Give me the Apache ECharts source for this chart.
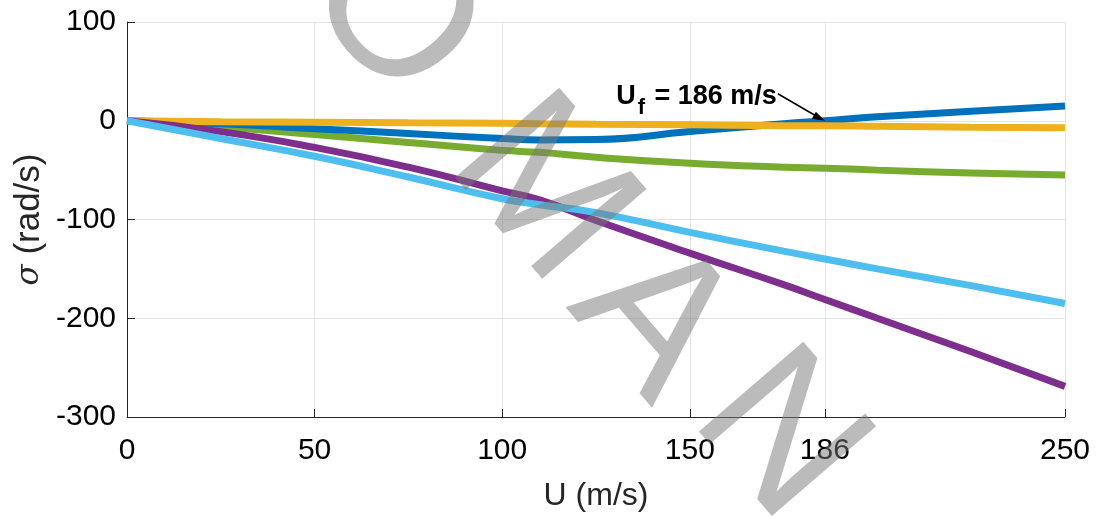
<!DOCTYPE html>
<html>
<head>
<meta charset="utf-8">
<script src="https://cdn.jsdelivr.net/npm/echarts@6/dist/echarts.min.js"></script>
<style>
  html, body { margin: 0; padding: 0; background: #fff; }
  #chart { width: 1096px; height: 518px; }
</style>
</head>
<body>
<div id="chart"></div>
<script>
// flow speed U (m/s)
const speeds = [0, 25, 50, 75, 100, 110, 125, 150, 175, 186, 200, 225, 250]
// damping sigma (rad/s) of each mode
const mode1 = [0, -3, -8, -13, -18, -19.5, -19, -11, -3, 0, 4, 9.5, 15]
const mode2 = [0, -1, -1.5, -2, -2.5, -3, -3.5, -4, -5, -5, -5.5, -6.5, -7]
const mode3 = [0, -6, -14, -22, -30, -32, -37, -43, -47, -48, -50, -53, -55]
const mode4 = [0, -18, -36, -57, -79, -85, -93, -113, -132, -140, -150, -167, -185]
const mode5 = [0, -11, -27, -47, -71, -80, -101, -134, -166, -181, -200, -234, -269]
const xTicks = [0, 50, 100, 150, 186, 250]
const flutterSpeed = 186

const pairs = ys => speeds.map((u, i) => [u, ys[i]])

const chart = echarts.init(document.getElementById('chart'))

const lineSeries = (data, color) => ({
  type: 'line',
  data: pairs(data),
  smooth: true,
  showSymbol: false,
  lineStyle: { color: color, width: 7 },
  itemStyle: { color: color },
  animation: false
})

const font = 'Liberation Sans, Arial, sans-serif'

const option = {
  animation: false,
  textStyle: { fontFamily: font },
  grid: { left: 127, right: 31, top: 22, bottom: 101, outerBoundsMode: 'none' },
  xAxis: {
    type: 'value',
    min: 0,
    max: 250,
    name: 'U (m/s)',
    nameLocation: 'middle',
    nameGap: 63,
    nameMoveOverlap: false,
    nameTextStyle: { fontSize: 32, color: '#262626', fontFamily: font },
    axisLine: { onZero: false, lineStyle: { color: '#262626', width: 1 } },
    axisTick: { inside: true, length: 8, customValues: xTicks, lineStyle: { color: '#262626' } },
    axisLabel: { customValues: xTicks, fontSize: 30, color: '#000', margin: 19, fontFamily: font },
    splitLine: { show: true, lineStyle: { color: '#e3e3e3', width: 1 } }
  },
  yAxis: {
    type: 'value',
    min: -300,
    max: 100,
    interval: 100,
    name: '{i|σ} (rad/s)',
    nameLocation: 'middle',
    nameGap: 80,
    nameMoveOverlap: false,
    nameTextStyle: {
      fontSize: 35,
      color: '#262626',
      fontFamily: font,
      rich: { i: { fontSize: 31, fontStyle: 'italic', fontFamily: 'DejaVu Serif', color: '#262626' } }
    },
    axisLine: { show: true, lineStyle: { color: '#262626', width: 1 } },
    axisTick: { inside: true, length: 8, lineStyle: { color: '#262626' } },
    axisLabel: { fontSize: 30, color: '#000', margin: 11, fontFamily: font },
    splitLine: { show: true, lineStyle: { color: '#e3e3e3', width: 1 } }
  },
  series: [
    lineSeries(mode3, '#77AC30'),
    lineSeries(mode1, '#0072BD'),
    lineSeries(mode2, '#EDB120'),
    lineSeries(mode5, '#7E2F8E'),
    lineSeries(mode4, '#4DBEEE')
  ]
}

chart.setOption(option)

// annotation: flutter speed arrow and label, placed from data coords
const tip = chart.convertToPixel({ gridIndex: 0 }, [flutterSpeed, 0])
const tail = [tip[0] - 47, tip[1] - 27]

// watermark letters
const wm = [['O', 340, -45], ['M', 486, 129], ['A', 607, 271], ['N', 730, 383]]

chart.setOption({
  graphic: [
    {
      type: 'line',
      shape: { x1: tail[0], y1: tail[1], x2: tip[0] - 4, y2: tip[1] - 2 },
      style: { stroke: '#000', lineWidth: 1.5 },
      z: 100
    },
    {
      type: 'polygon',
      shape: {
        points: [
          [tip[0], tip[1]],
          [tip[0] - 13, tip[1] - 2],
          [tip[0] - 9, tip[1] - 9]
        ]
      },
      style: { fill: '#000' },
      z: 100
    },
    {
      type: 'text',
      x: tail[0] - 1,
      y: tail[1] + 3,
      style: {
        text: '{b|U}{s|f}{b| = 186 m/s}',
        align: 'right',
        verticalAlign: 'middle',
        rich: {
          b: { fontSize: 27, fontWeight: 'bold', fontFamily: font, fill: '#000' },
          s: { fontSize: 22, fontWeight: 'bold', fontFamily: font, fill: '#000', padding: [22, 2, 0, 2] }
        }
      },
      z: 100
    }
  ].concat(wm.map(w => ({
    type: 'text',
    x: w[1],
    y: w[2],
    rotation: -0.86,
    style: {
      text: w[0],
      fontSize: 200,
      fontFamily: 'Liberation Sans',
      fill: 'rgba(120,120,120,0.5)',
      align: 'left',
      verticalAlign: 'middle'
    },
    z: 200
  })))
})
</script>
</body>
</html>
